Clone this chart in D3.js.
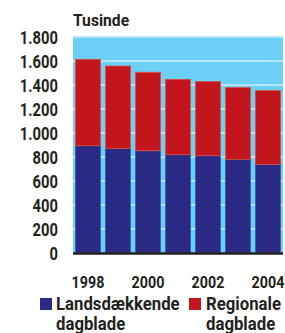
<!DOCTYPE html>
<html>
<head>
<meta charset="utf-8">
<script src="https://d3js.org/d3.v7.min.js"></script>
<style>
  body { margin: 0; background: #fff; }
  svg text {
    font-family: Roboto, "Open Sans", sans-serif;
    font-weight: bold;
    fill: #231f20;
  }
</style>
</head>
<body>
<svg id="chart"></svg>
<script>
  // data (thousands)
  const years = ["1998", "1999", "2000", "2001", "2002", "2003", "2004"];
  const national = [894, 872, 852, 819, 811, 781, 739];
  const regional = [720, 686, 654, 628, 617, 597, 614];
  const yTicks = [0, 200, 400, 600, 800, 1000, 1200, 1400, 1600, 1800];
  const yearTicks = ["1998", "2000", "2002", "2004"];
  const seriesNames = ["Landsdækkende", "Regionale"];

  const width = 285, height = 333;
  const svg = d3.select("#chart").attr("width", width).attr("height", height);

  const x = d3.scaleBand().domain(years).range([73, 283])
    .paddingInner(1 / 6).paddingOuter(1 / 12);
  const y = d3.scaleLinear().domain([0, 1800]).range([253, 37]);

  const loc = d3.formatLocale({ decimal: ",", thousands: ".", grouping: [3], currency: ["", ""] });
  const fmt = loc.format(",");

  // the original font is a condensed bold; squeeze glyphs horizontally
  function condense(sel, k) {
    sel.each(function() {
      const w = this.getComputedTextLength();
      d3.select(this).attr("textLength", w * k).attr("lengthAdjust", "spacingAndGlyphs");
    });
  }

  // light blue plot background
  svg.append("rect")
    .attr("x", 73).attr("y", y(1800) - 1)
    .attr("width", 210).attr("height", y(0) - y(1800) + 1)
    .attr("fill", "#6bcff6");

  // gridlines
  svg.selectAll(".grid").data(yTicks.slice(1)).enter().append("line")
    .attr("x1", 73).attr("x2", 283)
    .attr("y1", d => y(d)).attr("y2", d => y(d))
    .attr("stroke", "#c9eefc").attr("stroke-width", 1.5);

  const stacked = years.map((yr, i) => ({ year: yr, n: national[i], r: regional[i] }));

  // national (blue) bars
  svg.selectAll(".nat").data(stacked).enter().append("rect")
    .attr("x", d => x(d.year)).attr("width", x.bandwidth())
    .attr("y", d => y(d.n)).attr("height", d => y(0) - y(d.n))
    .attr("fill", "#2b2a84").attr("stroke", "#2f5fae").attr("stroke-width", 0.8);

  // regional (red) bars stacked on top
  svg.selectAll(".reg").data(stacked).enter().append("rect")
    .attr("x", d => x(d.year)).attr("width", x.bandwidth())
    .attr("y", d => y(d.n + d.r)).attr("height", d => y(d.n) - y(d.n + d.r))
    .attr("fill", "#c3161c").attr("stroke", "#de4a3c").attr("stroke-width", 0.8);

  // y axis labels
  const yAxis = svg.append("g")
    .attr("transform", "translate(58,0)")
    .call(d3.axisLeft(y).tickValues(yTicks).tickSize(0).tickPadding(0).tickFormat(fmt));
  yAxis.select(".domain").remove();
  yAxis.selectAll("text").style("font-size", "18px").attr("dy", "0.36em");
  condense(yAxis.selectAll("text"), 0.82);

  // x axis
  const xAxis = svg.append("g")
    .attr("transform", "translate(0," + y(0) + ")")
    .call(d3.axisBottom(x).tickValues(yearTicks).tickSize(0).tickPadding(35));
  xAxis.select(".domain").attr("stroke", "#231f20").attr("stroke-width", 2.5)
    .attr("d", "M73,0.5H283");
  xAxis.selectAll("text").style("font-size", "17px").attr("dy", "0");
  condense(xAxis.selectAll("text"), 0.84);

  // unit label
  const unit = svg.append("text").attr("x", 73).attr("y", 26)
    .style("font-size", "17px").text("Tusinde");
  condense(unit, 0.92);

  // legend
  const legend = [
    { name: seriesNames[0], color: "#2b2a84", sq: 40, tx: 56 },
    { name: seriesNames[1], color: "#c3161c", sq: 189, tx: 206 }
  ];
  const lg = svg.selectAll(".lg").data(legend).enter().append("g");
  lg.append("rect").attr("x", d => d.sq).attr("y", 298)
    .attr("width", 12).attr("height", 12).attr("fill", d => d.color);
  const l1 = lg.append("text").attr("x", d => d.tx).attr("y", 310)
    .style("font-size", "18px").text(d => d.name);
  const l2 = lg.append("text").attr("x", d => d.tx).attr("y", 330)
    .style("font-size", "18px").text("dagblade");
  condense(l1, 0.93);
  condense(l2, 0.93);
</script>
</body>
</html>
